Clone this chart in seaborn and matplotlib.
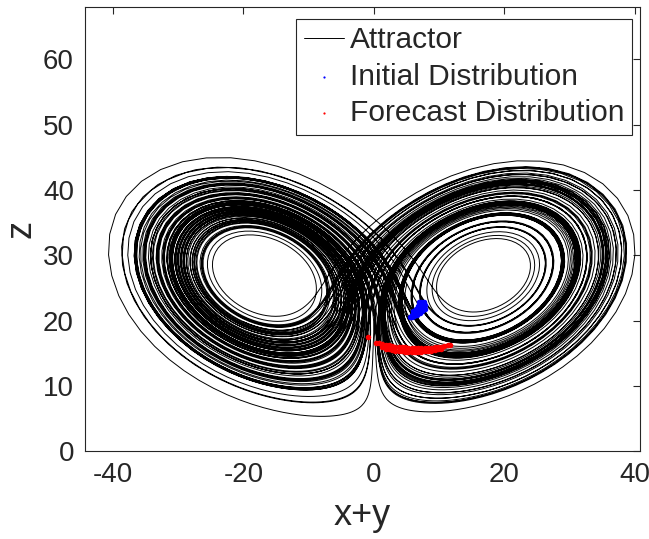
import numpy as np
import pandas as pd
import matplotlib
matplotlib.use("Agg")
import matplotlib.pyplot as plt
import seaborn as sns

# Lorenz system (the attractor is a simulated trajectory)
sigma, rho, beta = 10.0, 28.0, 8.0 / 3.0
start = [1.0, 1.0, 1.0]
dt = 0.01
n_skip = 33500   # steps dropped before the plotted window
n_keep = 12000   # steps in the plotted window

# point clouds: (x+y, z)
init_xy = [5.5, 5.9, 6.3, 6.7, 7.1, 7.5, 7.9,
           6.0, 6.4, 6.8, 7.2, 7.6,
           5.8, 6.2, 6.6, 7.0, 7.4, 7.8,
           6.9, 7.3, 7.7]
init_z = [20.6, 20.9, 21.2, 21.5, 21.8, 22.1, 22.4,
          21.4, 21.8, 22.2, 22.5, 22.7,
          20.5, 20.7, 20.9, 21.2, 21.5, 21.8,
          22.8, 22.9, 22.9]

fc_xy = [0.3, 0.8, 1.3, 1.8, 2.3, 2.8, 3.3, 3.8, 4.3, 4.8, 5.3, 5.8, 6.3, 6.8,
         7.3, 7.8, 8.3, 8.8, 9.3, 9.8, 10.3, 10.8, 11.3, 11.6,
         1.3, 1.8, 2.3, 2.8, 3.3, 3.8, 4.3, 4.8, 5.3, 5.8, 6.3, 6.8, 7.3, 7.8,
         8.3, 8.8, 9.3, 9.8, 10.3, -0.9]
fc_z = [16.6, 16.5, 16.4, 16.3, 16.2, 16.1, 16.0, 16.0, 15.9, 15.9, 15.8, 15.8,
        15.8, 15.8, 15.8, 15.8, 15.8, 15.8, 15.9, 15.9, 16.0, 16.1, 16.2, 16.2,
        15.9, 15.7, 15.6, 15.5, 15.4, 15.3, 15.3, 15.2, 15.2, 15.2, 15.2, 15.2,
        15.2, 15.3, 15.3, 15.4, 15.5, 15.6, 15.7, 17.4]


def lorenz(s):
    x, y, z = s
    return np.array([sigma * (y - x), x * (rho - z) - y, x * y - beta * z])


n_steps = n_skip + n_keep
traj = np.zeros((n_steps + 1, 3))
traj[0] = start
for i in range(n_steps):
    s = traj[i]
    k1 = lorenz(s)
    k2 = lorenz(s + 0.5 * dt * k1)
    k3 = lorenz(s + 0.5 * dt * k2)
    k4 = lorenz(s + dt * k3)
    traj[i + 1] = s + dt / 6.0 * (k1 + 2 * k2 + 2 * k3 + k4)
traj = traj[n_skip:]

att = pd.DataFrame({"xy": traj[:, 0] + traj[:, 1], "z": traj[:, 2]})
init = pd.DataFrame({"xy": init_xy, "z": init_z})
fc = pd.DataFrame({"xy": fc_xy, "z": fc_z})

sns.set_style("white")
plt.rcParams["font.family"] = ["Liberation Sans", "DejaVu Sans"]
plt.rcParams["axes.unicode_minus"] = False

fig = plt.figure(figsize=(6.49, 5.39), dpi=100)
ax = fig.add_axes([0.131, 0.163, 0.855, 0.824])

sns.lineplot(data=att, x="xy", y="z", sort=False, estimator=None,
             color="black", linewidth=0.7, label="Attractor", ax=ax)
sns.scatterplot(data=init, x="xy", y="z", color="blue", s=16, linewidth=0,
                label="Initial Distribution", ax=ax, zorder=3)
sns.scatterplot(data=fc, x="xy", y="z", color="red", s=16, linewidth=0,
                label="Forecast Distribution", ax=ax, zorder=3)

ax.set_xlim(-44.3, 40.8)
ax.set_ylim(0, 68)
ax.set_xticks([-40, -20, 0, 20, 40])
ax.set_yticks([0, 10, 20, 30, 40, 50, 60])
ax.tick_params(direction="in", length=5, width=0.8, labelsize=20,
               colors="#262626", top=True, right=True, pad=8)
for sp in ax.spines.values():
    sp.set_color("#262626")
    sp.set_linewidth(0.8)
ax.set_xlabel("x+y", fontsize=26, color="#262626", labelpad=7)
ax.set_ylabel("z", fontsize=26, color="#262626", labelpad=3)

leg = ax.legend(loc="upper right", bbox_to_anchor=(0.986, 0.973), fontsize=21.5,
                frameon=True, fancybox=False, framealpha=1, borderpad=0.25,
                labelspacing=0.28, handlelength=1.35, handletextpad=0.2,
                borderaxespad=0, markerscale=0.4)
leg.get_frame().set_edgecolor("#262626")
leg.get_frame().set_linewidth(0.8)

fig.savefig("out.png", dpi=100)
